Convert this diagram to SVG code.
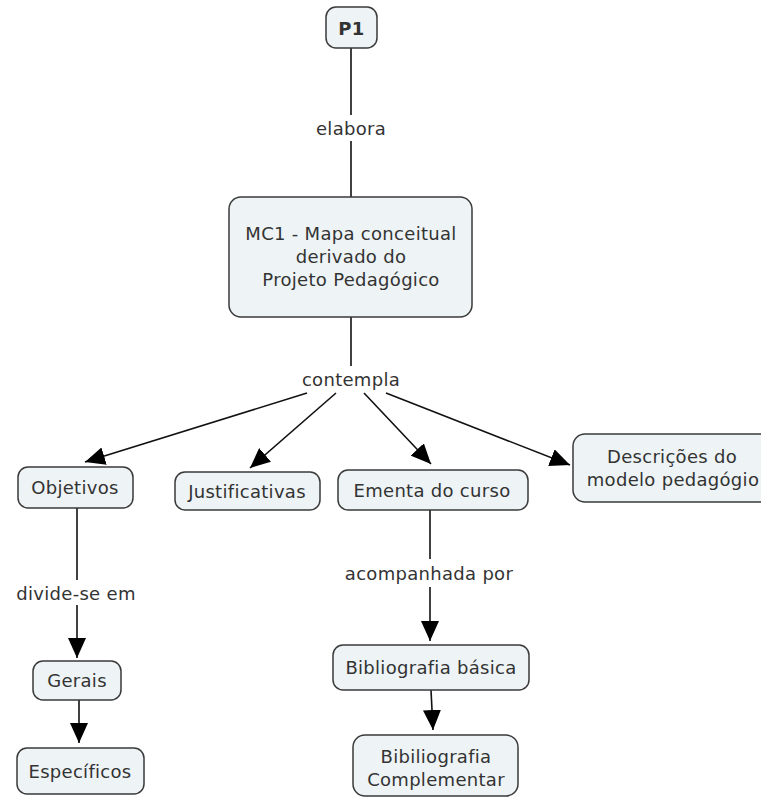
<svg xmlns="http://www.w3.org/2000/svg" width="761" height="800" viewBox="0 0 761 800">
<defs>
<style>
.n rect{fill:#eef3f6;stroke:#3a3a3a;stroke-width:1.5}
text{font-family:"DejaVu Sans","Verdana",sans-serif;font-size:18px;letter-spacing:0.3px;fill:#333;text-anchor:middle;dominant-baseline:central}
.c line{stroke:#111;stroke-width:1.6}
</style>
<marker id="ah" viewBox="0 0 20 18" refX="20" refY="9" markerWidth="20" markerHeight="18" markerUnits="userSpaceOnUse" orient="auto">
<path d="M0,0 L20,9 L0,18 Z" fill="#000"/>
</marker>
</defs>
<rect width="761" height="800" fill="#fff"/>
<g id="connectors" class="c">
<line x1="351" y1="48" x2="351" y2="115"/>
<text x="351" y="128">elabora</text>
<line x1="351" y1="141" x2="351" y2="197"/>
<line x1="351" y1="317" x2="351" y2="366"/>
<text x="351" y="379">contempla</text>
<line x1="307" y1="393" x2="85" y2="462" marker-end="url(#ah)"/>
<line x1="336" y1="393" x2="250" y2="468" marker-end="url(#ah)"/>
<line x1="364" y1="393" x2="431" y2="464" marker-end="url(#ah)"/>
<line x1="386" y1="393" x2="570" y2="465" marker-end="url(#ah)"/>
<line x1="77" y1="508" x2="77" y2="580"/>
<text x="76" y="593">divide-se em</text>
<line x1="77" y1="605" x2="77" y2="658" marker-end="url(#ah)"/>
<line x1="79" y1="700" x2="79" y2="743" marker-end="url(#ah)"/>
<line x1="430" y1="510" x2="430" y2="559"/>
<text x="429" y="573">acompanhada por</text>
<line x1="430" y1="587" x2="430" y2="641" marker-end="url(#ah)"/>
<line x1="431" y1="690" x2="433" y2="730" marker-end="url(#ah)"/>
</g>
<g id="p1" class="n"><rect x="326" y="7" width="51" height="41" rx="10"/><text x="351.5" y="28" font-weight="bold" font-size="19">P1</text></g>
<g id="mc1" class="n"><rect x="229" y="197" width="243" height="120" rx="12"/><text x="351" y="233">MC1 - Mapa conceitual</text><text x="351" y="256">derivado do</text><text x="351" y="279">Projeto Pedagógico</text></g>
<g id="objetivos" class="n"><rect x="18" y="467" width="115" height="41" rx="10"/><text x="75" y="487">Objetivos</text></g>
<g id="justificativas" class="n"><rect x="175" y="472" width="145" height="38" rx="10"/><text x="247" y="491">Justificativas</text></g>
<g id="ementa" class="n"><rect x="338" y="470" width="190" height="40" rx="10"/><text x="432" y="490">Ementa do curso</text></g>
<g id="descricoes" class="n"><rect x="573" y="434" width="200" height="68" rx="12"/><text x="672" y="456">Descrições do</text><text x="673" y="479">modelo pedagógio</text></g>
<g id="gerais" class="n"><rect x="33" y="661" width="88" height="39" rx="10"/><text x="77" y="680">Gerais</text></g>
<g id="especificos" class="n"><rect x="17" y="748" width="127" height="46" rx="10"/><text x="80" y="771">Específicos</text></g>
<g id="bibbasica" class="n"><rect x="333" y="645" width="196" height="45" rx="10"/><text x="431" y="667">Bibliografia básica</text></g>
<g id="bibcompl" class="n"><rect x="353" y="735" width="165" height="61" rx="12"/><text x="436" y="756">Bibiliografia</text><text x="436" y="779">Complementar</text></g>
</svg>
